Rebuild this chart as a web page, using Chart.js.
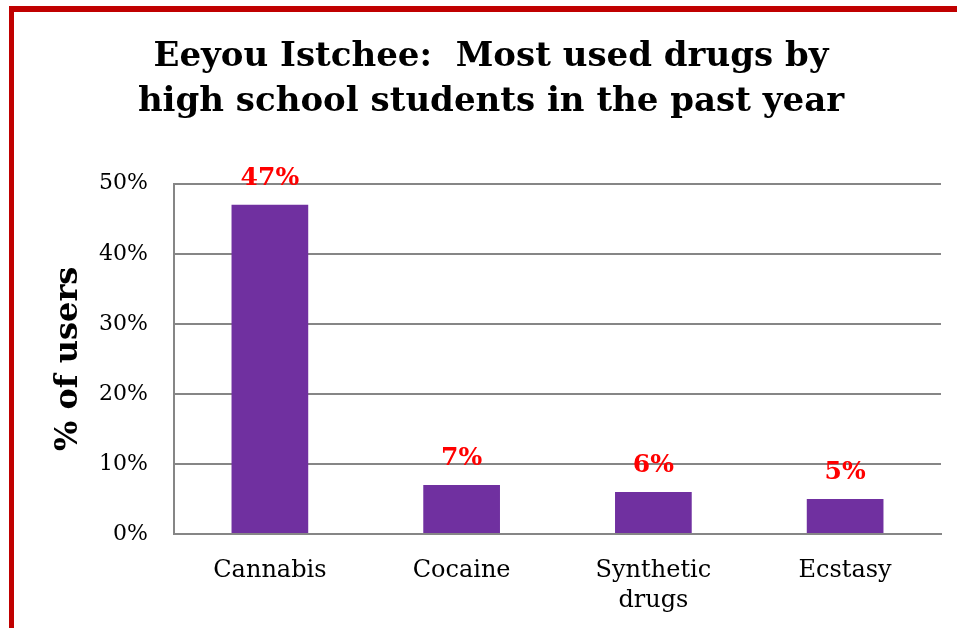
<!DOCTYPE html>
<html>
<head>
<meta charset="utf-8">
<script src="https://cdn.jsdelivr.net/npm/chart.js@4"></script>
<style>
  body { margin: 0; background: #fff; }
  #frame {
    position: absolute; left: 9px; top: 6px; right: 0; bottom: 0;
    border-top: 6px solid #c00000; border-left: 5px solid #c00000;
  }
  #chart { position: absolute; left: 0; top: 0; }
</style>
</head>
<body>
<div id="frame"></div>
<canvas id="chart" width="957" height="628"></canvas>
<script>
'use strict';

const drugs = ['Cannabis', 'Cocaine', ['Synthetic', 'drugs'], 'Ecstasy'];
const usersPct = [47, 7, 6, 5];
const yTicks = [0, 10, 20, 30, 40, 50];

const serif = 'DejaVu Serif';
const gridGray = '#868686';

// writes the percentage over each bar
const barValues = {
    id: 'barValues',
    afterDatasetsDraw(chart) {
        const ctx = chart.ctx;
        const meta = chart.getDatasetMeta(0);
        ctx.save();
        ctx.fillStyle = '#ff0000';
        ctx.font = 'bold 25px "' + serif + '"';
        ctx.textAlign = 'center';
        ctx.textBaseline = 'alphabetic';
        meta.data.forEach((bar, i) => {
            ctx.fillText(usersPct[i] + '%', bar.x, bar.y - 20);
        });
        ctx.restore();
    }
};

const ctx = document.getElementById('chart').getContext('2d');
const chart = new Chart(ctx, {
    type: 'bar',
    data: {
        labels: drugs,
        datasets: [{
            data: usersPct,
            backgroundColor: '#7030a0',
            categoryPercentage: 1,
            barPercentage: 0.4
        }]
    },
    options: {
        responsive: false,
        animation: false,
        layout: { padding: { left: 41, right: 16, top: 0, bottom: 0 } },
        plugins: {
            legend: { display: false },
            tooltip: { enabled: false },
            title: {
                display: true,
                text: ['Eeyou Istchee:  Most used drugs by', 'high school students in the past year'],
                color: '#000',
                font: { family: serif, size: 34, weight: 'bold', lineHeight: 1.32 },
                padding: { top: 35, bottom: 59 }
            }
        },
        scales: {
            x: {
                grid: { display: false, drawTicks: false },
                border: { display: true, color: gridGray, width: 2 },
                ticks: {
                    color: '#000',
                    padding: 22,
                    font: { family: serif, size: 24, lineHeight: 1.25 }
                },
                afterFit(scale) { scale.height = 94; }
            },
            y: {
                min: 0,
                max: 50,
                afterBuildTicks(scale) {
                    scale.ticks = yTicks.map(v => ({ value: v }));
                },
                grid: { color: gridGray, lineWidth: 2, drawTicks: false },
                border: { display: true, color: gridGray, width: 2 },
                ticks: {
                    color: '#000',
                    padding: 26,
                    font: { family: serif, size: 22 },
                    callback: v => v + '%'
                },
                title: {
                    display: true,
                    text: '% of users',
                    color: '#000',
                    font: { family: serif, size: 32, weight: 'bold', lineHeight: 1.2 },
                    padding: { top: 8, bottom: 0 }
                },
                afterFit(scale) { scale.width = 133; }
            }
        }
    },
    plugins: [barValues]
});
</script>
</body>
</html>
